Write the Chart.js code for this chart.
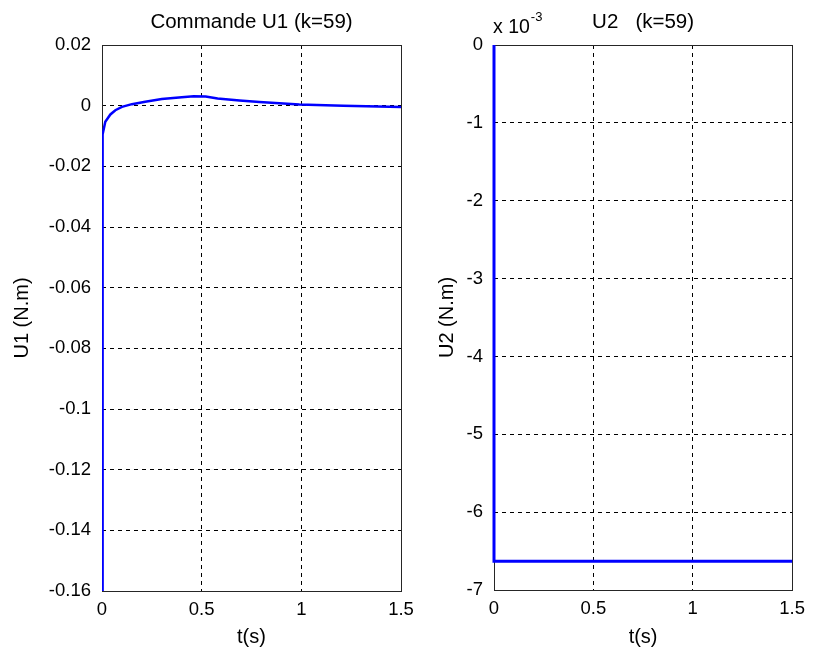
<!DOCTYPE html>
<html>
<head>
<meta charset="utf-8">
<script src="https://cdn.jsdelivr.net/npm/chart.js@4.4.1/dist/chart.umd.min.js"></script>
<style>
  body { margin: 0; background: #fff; }
  #wrap { position: relative; width: 813px; height: 655px; }
  canvas { position: absolute; top: 0; }
</style>
</head>
<body>
<div id="wrap">
  <canvas id="left" width="430" height="655" style="left:0"></canvas>
  <canvas id="right" width="383" height="655" style="left:430px"></canvas>
</div>
<script>
// time axis (s) and tick values
var xTicks = [0, 0.5, 1, 1.5];

// U1 command
var t1 = [0, 0.003, 0.0165, 0.042, 0.067, 0.10, 0.15, 0.217, 0.30, 0.40, 0.46, 0.52, 0.58, 0.69, 0.79, 0.89, 0.99, 1.21, 1.5];
var u1 = [-0.16, -0.0095, -0.0053, -0.0029, -0.0015, -0.0004, 0.0005, 0.0013, 0.0022, 0.0028, 0.0031, 0.0030, 0.0024, 0.0017, 0.0012, 0.0008, 0.0004, 0.0000, -0.0004];
var u1Ticks = [0.02, 0, -0.02, -0.04, -0.06, -0.08, -0.1, -0.12, -0.14, -0.16];

// U2 command, in units of 1e-3 N.m
var t2 = [0, 0, 1.5];
var u2 = [0, -6.63, -6.63];
var u2Ticks = [0, -1, -2, -3, -4, -5, -6, -7];

var FONT = "'Liberation Sans', Arial, sans-serif";

// box, title and exponent label drawn like matlab does
var matlabFrame = {
    id: 'matlabFrame',
    beforeDatasetsDraw: function(chart) {
        var ctx = chart.ctx;
        var a = chart.chartArea;
        ctx.save();
        ctx.strokeStyle = '#262626';
        ctx.lineWidth = 1;
        ctx.strokeRect(Math.round(a.left) + 0.5, Math.round(a.top) + 0.5,
            Math.round(a.right - a.left), Math.round(a.bottom - a.top));
        ctx.restore();
    },
    afterDraw: function(chart, args, opts) {
        var ctx = chart.ctx;
        var a = chart.chartArea;
        ctx.save();
        ctx.fillStyle = '#000';
        ctx.font = '20.5px ' + FONT;
        ctx.textAlign = 'center';
        ctx.textBaseline = 'middle';
        ctx.fillText(opts.title, (a.left + a.right) / 2, a.top - 23);
        if (opts.exponent) {
            ctx.textAlign = 'left';
            ctx.textBaseline = 'alphabetic';
            ctx.font = '19.5px ' + FONT;
            ctx.fillText('x 10', a.left - 1, a.top - 12);
            var w = ctx.measureText('x 10').width;
            ctx.font = '13px ' + FONT;
            ctx.fillText(opts.exponent, a.left + w, a.top - 24);
        }
        ctx.restore();
    }
};

function toPoints(xs, ys) {
    var pts = [];
    for (var i = 0; i < xs.length; i++) pts.push({x: xs[i], y: ys[i]});
    return pts;
}

function fmt(v) { return String(+v.toFixed(3)); }

function makeOptions(yTicks, yTitle, yTitlePad, yWidth, xHeight, padRight, title, exponent) {
    return {
        responsive: false,
        animation: false,
        layout: { padding: { top: 45, right: padRight, left: 0, bottom: 0 } },
        plugins: {
            legend: { display: false },
            tooltip: { enabled: false },
            matlabFrame: { title: title, exponent: exponent }
        },
        scales: {
            x: {
                type: 'linear',
                min: xTicks[0],
                max: xTicks[xTicks.length - 1],
                afterBuildTicks: function(s) { s.ticks = xTicks.map(function(v) { return {value: v}; }); },
                afterFit: function(s) { s.height = xHeight; },
                grid: { color: '#000', lineWidth: 1, drawTicks: false },
                border: { display: false, dash: [4, 4] },
                ticks: { color: '#000', padding: 8, font: { family: FONT, size: 18.5 }, maxRotation: 0, callback: fmt },
                title: { display: true, text: 't(s)', color: '#000', font: { family: FONT, size: 20 }, padding: { top: 0, bottom: 6 } }
            },
            y: {
                type: 'linear',
                min: Math.min.apply(null, yTicks),
                max: Math.max.apply(null, yTicks),
                afterBuildTicks: function(s) { s.ticks = yTicks.slice().reverse().map(function(v) { return {value: v}; }); },
                afterFit: function(s) { s.width = yWidth; },
                grid: { color: '#000', lineWidth: 1, drawTicks: false },
                border: { display: false, dash: [4, 4] },
                ticks: { color: '#000', padding: 11, font: { family: FONT, size: 18.5 }, callback: fmt },
                title: { display: true, text: yTitle, color: '#000', font: { family: FONT, size: 20 }, padding: { top: yTitlePad, bottom: 0 } }
            }
        }
    };
}

new Chart(document.getElementById('left').getContext('2d'), {
    type: 'line',
    data: {
        datasets: [{
            data: toPoints(t1, u1),
            borderColor: '#0000ff',
            borderWidth: 2.5,
            pointRadius: 0,
            tension: 0,
            clip: 0
        }]
    },
    options: makeOptions(u1Ticks, 'U1 (N.m)', 10, 102, 64, 29, 'Commande U1 (k=59)', null),
    plugins: [matlabFrame]
});

new Chart(document.getElementById('right').getContext('2d'), {
    type: 'line',
    data: {
        datasets: [{
            data: toPoints(t2, u2),
            borderColor: '#0000ff',
            borderWidth: 3,
            pointRadius: 0,
            stepped: 'before',
            clip: 4
        }]
    },
    options: makeOptions(u2Ticks, 'U2 (N.m)', 5, 64, 65, 18, 'U2   (k=59)', '-3'),
    plugins: [matlabFrame]
});
</script>
</body>
</html>
